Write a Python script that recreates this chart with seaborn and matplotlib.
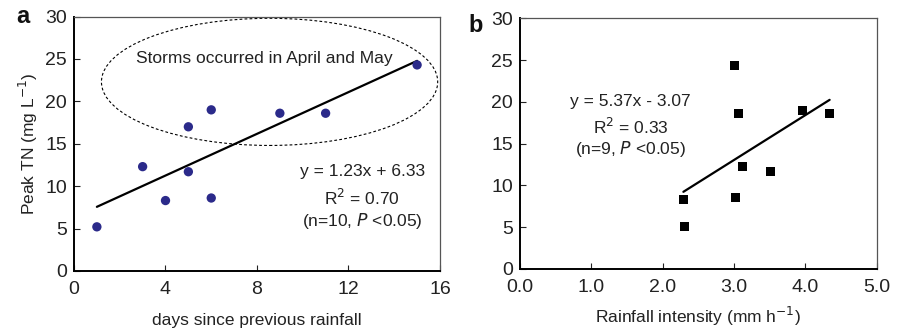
import matplotlib
matplotlib.use("Agg")
import matplotlib.pyplot as plt
from matplotlib.patches import Ellipse
import numpy as np
import pandas as pd
import seaborn as sns

# Panel a data
days = [1, 3, 4, 5, 5, 6, 6, 9, 11, 15]
tn_a = [5.2, 12.3, 8.3, 17.0, 11.7, 19.0, 8.6, 18.6, 18.6, 24.3]
# Panel b data
intensity = [2.29, 2.30, 3.00, 3.02, 3.06, 3.12, 3.51, 3.96, 4.34]
tn_b = [8.3, 5.1, 24.3, 8.6, 18.6, 12.3, 11.6, 19.0, 18.6]

fit_a = (1.23, 6.33)
fit_b = (5.37, -3.07)

sns.set_style("white")
plt.rcParams['font.family'] = ['Liberation Sans', 'DejaVu Sans']

fig = plt.figure(figsize=(8.97, 3.32), dpi=100)
ax1 = fig.add_axes([0.0825, 0.184, 0.408, 0.766])
ax2 = fig.add_axes([0.5797, 0.19, 0.3977, 0.755])

df_a = pd.DataFrame({"x": days, "y": tn_a})
df_b = pd.DataFrame({"x": intensity, "y": tn_b})

sns.scatterplot(data=df_a, x="x", y="y", ax=ax1, color="#2b2a8a", s=45,
                edgecolor="none", zorder=3)
xa = np.array([min(days), max(days)])
ax1.plot(xa, fit_a[0] * xa + fit_a[1], color="black", lw=1.6, zorder=2)

sns.scatterplot(data=df_b, x="x", y="y", ax=ax2, color="black", marker="s",
                s=42, edgecolor="none", zorder=3)
xb = np.array([min(intensity), max(intensity)])
ax2.plot(xb, fit_b[0] * xb + fit_b[1], color="black", lw=1.6, zorder=2)

ell = Ellipse((8.55, 22.3), 14.7, 15.0, fill=False, ls=(0, (2.5, 2)),
              lw=0.8, edgecolor="black")
ax1.add_patch(ell)

ax1.set_xlim(0, 16)
ax1.set_ylim(0, 30)
ax1.set_xticks([0, 4, 8, 12, 16])
ax1.set_yticks([0, 5, 10, 15, 20, 25, 30])
ax2.set_xlim(0, 5)
ax2.set_ylim(0, 30)
ax2.set_xticks([0, 1, 2, 3, 4, 5])
ax2.set_xticklabels(["0.0", "1.0", "2.0", "3.0", "4.0", "5.0"])
ax2.set_yticks([0, 5, 10, 15, 20, 25, 30])

for ax in (ax1, ax2):
    ax.tick_params(direction="in", length=4, width=0.8, labelsize=14,
                   colors="#222222", left=True, bottom=True)
    ax.tick_params(axis="x", pad=7)
    ax.tick_params(axis="y", pad=5)
    for s in ("left", "bottom"):
        ax.spines[s].set_color("black")
        ax.spines[s].set_linewidth(1.4)
    for s in ("top", "right"):
        ax.spines[s].set_color("#555555")
        ax.spines[s].set_linewidth(0.9)
    ax.set_ylabel("")

ax1.set_xlabel("days since previous rainfall", fontsize=12.5, labelpad=11,
               color="#222222")
ax1.set_ylabel("Peak TN (mg L$^{-1}$)", fontsize=12.5, color="#222222", labelpad=4)
ax2.set_xlabel("Rainfall intensity (mm h$^{-1}$)", fontsize=12.5, labelpad=7,
               color="#222222")

ax1.text(8.3, 25.0, "Storms occurred in April and May", ha="center",
         va="center", fontsize=12.5, color="#222222")
ax1.text(12.6, 11.7, "y = 1.23x + 6.33", ha="center", va="center",
         fontsize=12.5, color="#222222")
ax1.text(12.6, 8.6, "R$^2$ = 0.70", ha="center", va="center",
         fontsize=12.5, color="#222222")
ax1.text(12.6, 5.9, "(n=10, $\\it{P}$ <0.05)", ha="center", va="center",
         fontsize=12.5, color="#222222")

ax2.text(1.55, 20.0, "y = 5.37x - 3.07", ha="center", va="center",
         fontsize=12.5, color="#222222")
ax2.text(1.55, 17.0, "R$^2$ = 0.33", ha="center", va="center",
         fontsize=12.5, color="#222222")
ax2.text(1.55, 14.3, "(n=9, $\\it{P}$ <0.05)", ha="center", va="center",
         fontsize=12.5, color="#222222")

fig.text(0.018, 0.93, "a", fontsize=17, fontweight="bold", color="#111111")
fig.text(0.522, 0.905, "b", fontsize=17, fontweight="bold", color="#111111")

fig.savefig("out.png", dpi=100)
